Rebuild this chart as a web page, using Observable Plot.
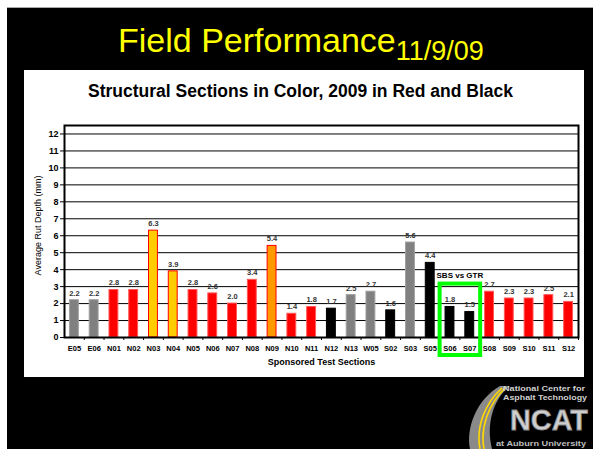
<!DOCTYPE html>
<html>
<head>
<meta charset="utf-8">
<script src="https://cdn.jsdelivr.net/npm/d3@7"></script>
<script src="https://cdn.jsdelivr.net/npm/@observablehq/plot@0.6"></script>
<style>
  html, body { margin: 0; padding: 0; }
  body { width: 593px; height: 449px; overflow: hidden; position: relative; background: #fff;
         font-family: "Liberation Sans", Arial, sans-serif; }
  #topline { position: absolute; left: 7px; top: 7px; width: 586px; height: 1px; background: #a8a8a8; }
  #slide { position: absolute; left: 7px; top: 8px; width: 586px; height: 441px; background: #000; }
  #title { position: absolute; left: 118px; top: 23px; font-size: 34px; line-height: 34px; color: #ffff00; white-space: nowrap; }
  #title span { font-size: 27px; position: relative; top: 8px; }
  #panel { position: absolute; left: 24px; top: 70px; width: 560px; height: 307px; background: #fff; }
  #chart { position: absolute; left: 24px; top: 70px; }
  #ctitle { position: absolute; left: 0; width: 601px; top: 83px; text-align: center; font-size: 17.5px; line-height: 17px;
            font-weight: bold; color: #000; white-space: nowrap; }
  #logo { position: absolute; left: 456px; top: 378px; }
</style>
</head>
<body>
<div id="topline"></div>
<div id="slide"></div>
<div id="title">Field Performance<span>11/9/09</span></div>
<div id="panel"></div>
<div id="chart"></div>
<div id="ctitle">Structural Sections in Color, 2009 in Red and Black</div>
<svg id="logo" width="137" height="71" viewBox="0 0 137 71">
  <path d="M14,71 C10,50 20,22 44,8 L54,8 C36,22 30,48 36,71 Z" fill="#8a8a8a"/>
  <path d="M24,71 C20,50 28,26 46,10" fill="none" stroke="#ffd800" stroke-width="1.6"/>
  <path d="M28,71 C24,50 32,27 49,10" fill="none" stroke="#ffd800" stroke-width="1.6"/>
  <text x="47" y="13" font-size="7.5" font-weight="bold" fill="#d0d0d0" textLength="82" lengthAdjust="spacingAndGlyphs">National Center for</text>
  <text x="47" y="22" font-size="7.5" font-weight="bold" fill="#d0d0d0" textLength="84" lengthAdjust="spacingAndGlyphs">Asphalt Technology</text>
  <text x="54" y="52" font-size="30" font-weight="bold" fill="#cfcfcf" stroke="#8a8a8a" stroke-width="0.8" textLength="78" lengthAdjust="spacingAndGlyphs">NCAT</text>
  <text x="40" y="68" font-size="7" font-weight="bold" fill="#bdbdbd" textLength="90" lengthAdjust="spacingAndGlyphs">at Auburn University</text>
</svg>
<script>
// ---- data ----
const sections = ["E05","E06","N01","N02","N03","N04","N05","N06","N07","N08","N09","N10","N11",
                  "N12","N13","W05","S02","S03","S05","S06","S07","S08","S09","S10","S11","S12"];
const rutDepth = [2.2,2.2,2.8,2.8,6.3,3.9,2.8,2.6,2.0,3.4,5.4,1.4,1.8,
                  1.7,2.5,2.7,1.6,5.6,4.4,1.8,1.5,2.7,2.3,2.3,2.5,2.1];
const barColors = ["#808080","#808080","#ff0000","#ff0000","#ffcc00","#ffcc00","#ff0000","#ff0000","#ff0000","#ff0000","#ff9900","#ff0000","#ff0000",
                   "#000000","#808080","#808080","#000000","#808080","#000000","#000000","#000000","#ff0000","#ff0000","#ff0000","#ff0000","#ff0000"];
const yTicks = [0,1,2,3,4,5,6,7,8,9,10,11,12];
const yLabel = "Average Rut Depth (mm)";
const xLabel = "Sponsored Test Sections";
const boxSections = ["S06","S07"];
const boxLabel = "SBS vs GTR";

const data = sections.map((s, i) => ({
  section: s,
  rut: rutDepth[i],
  fill: barColors[i],
  stroke: (barColors[i] === "#ffcc00" || barColors[i] === "#ff9900") ? "#ff0000"
        : barColors[i] === "#ff0000" ? "#ff5a5a"
        : barColors[i] === "#808080" ? "#a0a0a0" : "#000000",
  label: rutDepth[i].toFixed(1)
}));

const font = "Liberation Sans, Arial, sans-serif";
const W = 560, ML = 40, MR = 6;
const halfStep = (W - ML - MR) / sections.length / 2;
const plot = Plot.plot({
  width: W,
  height: 307,
  marginLeft: ML,
  marginRight: MR,
  marginTop: 55,
  marginBottom: 40,
  style: { background: "transparent", fontFamily: font, overflow: "visible", color: "#000" },
  x: { domain: sections, paddingInner: 0.55, paddingOuter: 0.275, round: false, label: null },
  y: { domain: [0, 12.5], label: null },
  color: { type: "identity" },
  marks: [
    Plot.ruleY(yTicks.filter(d => d > 0), { stroke: "#000", strokeWidth: 1 }),
    Plot.barY(data, { x: "section", y: "rut", fill: "fill", stroke: "stroke", strokeWidth: 1 }),
    Plot.text(data, { x: "section", y: "rut", text: "label", dy: -7, fontSize: 7.5, fontWeight: "bold", fill: "#333" }),
    Plot.axisY(yTicks, { tickSize: 4, tickPadding: 2, fontSize: 9, fontWeight: "bold", label: null }),
    Plot.axisX({ tickSize: 3, dx: halfStep, tickFormat: () => "", label: null }),
    Plot.axisX({ tickSize: 0, tickPadding: 8, fontSize: 7.5, fontWeight: "bold", label: null }),
    Plot.text([yLabel], { frameAnchor: "left", textAnchor: "middle", text: d => d, rotate: -90, dx: -26, dy: -6, fontSize: 9, fill: "#000" }),
    Plot.text([xLabel], { frameAnchor: "bottom", text: d => d, dy: 27, fontSize: 9, fontWeight: "bold", fill: "#000" }),
    Plot.frame({ stroke: "#000", strokeWidth: 2 })
  ]
});
document.getElementById("chart").appendChild(plot);

// green highlight box around the two sections, placed with the plot's own scales
const xs = plot.scale("x"), ys = plot.scale("y");
const step = xs.apply(boxSections[1]) - xs.apply(boxSections[0]);
const gap = step - xs.bandwidth;
const bx0 = xs.apply(boxSections[0]) - gap / 2;
const bx1 = xs.apply(boxSections[1]) + xs.bandwidth + gap / 2 + 1;
const by0 = ys.apply(3.15);
const by1 = ys.apply(0) + 18;
const svg = d3.select(plot);
svg.append("rect")
  .attr("x", bx0).attr("y", by0).attr("width", bx1 - bx0).attr("height", by1 - by0)
  .attr("fill", "none").attr("stroke", "#00ff00").attr("stroke-width", 4);
svg.append("text")
  .attr("x", (bx0 + bx1) / 2).attr("y", by0 - 6)
  .attr("text-anchor", "middle").attr("font-size", 8).attr("font-weight", "bold")
  .attr("font-family", font).attr("fill", "#000")
  .text(boxLabel);
</script>
</body>
</html>
